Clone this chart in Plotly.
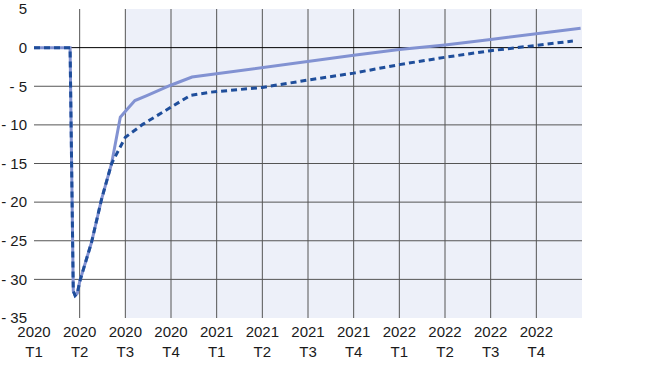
import plotly.graph_objects as go

# x positions in quarters from 2020 T1 (0)
x_solid = [0, 0.5, 0.79, 0.86, 0.9, 0.95, 1.0, 1.26, 1.48, 1.7, 1.89, 2.05, 2.21, 2.47, 2.98, 3.46, 4.08, 5.0, 6.0, 7.0, 8.0, 9.0, 10.0, 11.0, 11.97]
y_solid = [0, 0, 0, -31.5, -32.1, -31.8, -30.3, -25.2, -19.6, -15.0, -9.0, -7.9, -6.85, -6.2, -4.9, -3.8, -3.3, -2.6, -1.8, -1.0, -0.25, 0.35, 1.05, 1.8, 2.5]

x_dash = [0, 0.5, 0.79, 0.86, 0.9, 0.95, 1.0, 1.26, 1.48, 1.7, 2.0, 2.39, 2.94, 3.42, 3.86, 4.3, 5.0, 6.0, 7.0, 8.0, 9.0, 10.0, 11.0, 11.8]
y_dash = [0, 0, 0, -31.5, -32.1, -31.8, -30.3, -25.2, -19.6, -15.0, -11.6, -9.9, -7.9, -6.2, -5.77, -5.55, -5.15, -4.2, -3.3, -2.2, -1.25, -0.4, 0.28, 0.85]

tick_vals = list(range(12))
tick_text = ["2020<br>T1", "2020<br>T2", "2020<br>T3", "2020<br>T4",
             "2021<br>T1", "2021<br>T2", "2021<br>T3", "2021<br>T4",
             "2022<br>T1", "2022<br>T2", "2022<br>T3", "2022<br>T4"]
y_vals = [5, 0, -5, -10, -15, -20, -25, -30, -35]
y_text = ["5", "0", "- 5", "- 10", "- 15", "- 20", "- 25", "- 30", "- 35"]

X_MIN, X_MAX = 0, 12
Y_MIN, Y_MAX = -35, 5
SHADE_START = 2

fig = go.Figure()
fig.add_trace(go.Scatter(x=x_solid, y=y_solid, mode="lines",
                         line=dict(color="#8292d2", width=3), showlegend=False))
fig.add_trace(go.Scatter(x=x_dash, y=y_dash, mode="lines",
                         line=dict(color="#1f4e9b", width=3, dash="6px,4px"), showlegend=False))

shapes = [dict(type="rect", xref="x", yref="y", x0=SHADE_START, x1=X_MAX, y0=Y_MIN, y1=Y_MAX,
               fillcolor="#edf0f9", line=dict(width=0), layer="below")]
for v in tick_vals[1:]:
    shapes.append(dict(type="line", xref="x", yref="y", x0=v, x1=v, y0=Y_MIN, y1=Y_MAX,
                       line=dict(color="#555555", width=1), layer="below"))
for v in y_vals:
    if v in (Y_MIN, Y_MAX):
        continue
    shapes.append(dict(type="line", xref="x", yref="y", x0=X_MIN, x1=X_MAX, y0=v, y1=v,
                       line=dict(color="#000000" if v == 0 else "#555555", width=1), layer="below"))

fig.update_layout(
    width=658, height=370,
    margin=dict(l=34, r=76, t=9, b=52),
    paper_bgcolor="white", plot_bgcolor="white",
    shapes=shapes,
    font=dict(family="Liberation Sans, Arial, sans-serif", size=15, color="#1a1a1a"),
    xaxis=dict(range=[X_MIN, X_MAX], tickvals=tick_vals, ticktext=tick_text, automargin=False,
               showgrid=False, zeroline=False, showline=False, ticks="", ticklabelstandoff=3,
               ticklabeloverflow="allow"),
    yaxis=dict(range=[Y_MIN, Y_MAX], tickvals=y_vals, ticktext=y_text, automargin=False,
               showgrid=False, zeroline=False, showline=False, ticks="", ticklabelstandoff=6,
               ticklabeloverflow="allow"),
)

fig.write_html("out.html")
